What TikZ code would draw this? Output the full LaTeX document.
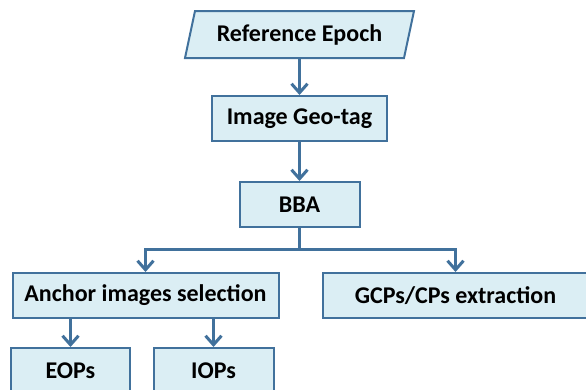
\documentclass[tikz,border=0pt]{standalone}
\usepackage{fontspec}
\setmainfont{Carlito}
\usetikzlibrary{positioning,arrows.meta,backgrounds}
\definecolor{boxfill}{RGB}{219,238,244}
\definecolor{boxline}{RGB}{65,113,156}
\tikzset{
  stepbox/.style={draw=boxline,fill=boxfill,line width=2pt,minimum height=45pt,
    inner sep=0pt,font=\fontsize{24}{28}\selectfont\bfseries},
  flow/.style={draw=boxline,line width=3pt,-{Straight Barb[length=9pt,width=16pt]}}
}

\begin{document}
\begin{tikzpicture}[x=1pt,y=1pt,node distance=38pt]
  \useasboundingbox (0,0) rectangle (586,-389);
  \node[stepbox,draw=none,fill=none,minimum width=217pt](epoch) at (299.5,-34.5) {Reference Epoch};
  \node[stepbox,below=37pt of epoch,minimum width=175pt](geotag) {Image Geo-tag};
  \node[stepbox,below=39pt of geotag,minimum width=120pt](bba) {BBA};
  \coordinate[below=21pt of bba.south](split);
  \node[stepbox,below=44pt of bba,xshift=-154pt,minimum width=266pt](anchor) {Anchor images selection};
  \node[stepbox,below=44pt of bba,xshift=156pt,minimum width=266pt](gcps) {GCPs/CPs extraction};
  \node[stepbox,below=28pt of anchor,xshift=-75pt,minimum width=119pt](eops) {EOPs};
  \node[stepbox,below=28pt of anchor,xshift=68pt,minimum width=120pt](iops) {IOPs};
  % parallelogram behind the first node
  \begin{scope}[on background layer]
    \path[stepbox] ([xshift=-5pt]epoch.south west) -- ([xshift=5pt]epoch.north west)
      -- ([xshift=5pt]epoch.north east) -- ([xshift=-5pt]epoch.south east) -- cycle;
  \end{scope}
  \draw[flow] (epoch) -- (geotag);
  \draw[flow] (geotag) -- (bba);
  \draw[flow] (bba) -- (split) -| (anchor);
  \draw[flow] (split) -| (gcps);
  \draw[flow] (anchor.south -| eops) -- (eops);
  \draw[flow] (anchor.south -| iops) -- (iops);
\end{tikzpicture}
\end{document}
